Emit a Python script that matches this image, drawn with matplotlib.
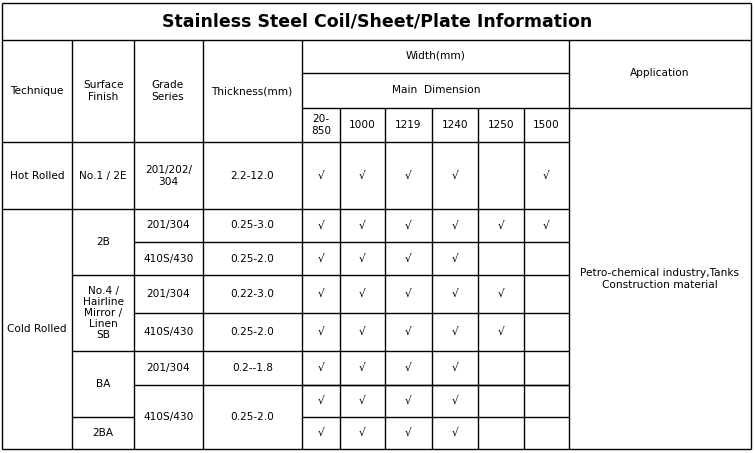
import matplotlib.pyplot as plt

# table data
title = "Stainless Steel Coil/Sheet/Plate Information"
widths = ["20-\n850", "1000", "1219", "1240", "1250", "1500"]
application = "Petro-chemical industry,Tanks\nConstruction material"
# check marks per data row (1 = available)
checks = [
    [1, 1, 1, 1, 0, 1],   # hot rolled
    [1, 1, 1, 1, 1, 1],   # 2B 201/304
    [1, 1, 1, 1, 0, 0],   # 2B 410S/430
    [1, 1, 1, 1, 1, 0],   # No.4 201/304
    [1, 1, 1, 1, 1, 0],   # No.4 410S/430
    [1, 1, 1, 1, 0, 0],   # BA 201/304
    [1, 1, 1, 1, 0, 0],   # BA 410S/430
    [1, 1, 1, 1, 0, 0],   # 2BA 410S/430
]

# grid in pixels
xs = [2, 72, 134, 203, 302, 340, 385, 432, 478, 524, 569, 751]
ys_body = [142, 209, 242, 275, 313, 351, 385, 417, 449]

fig = plt.figure(figsize=(7.55, 4.53), dpi=100)
ax = fig.add_axes([0, 0, 1, 1])
ax.set_xlim(0, 755)
ax.set_ylim(453, 0)
ax.axis("off")

lw = 1.0
def hline(y, x0, x1):
    ax.plot([x0, x1], [y, y], color="black", lw=lw, solid_capstyle="butt")
def vline(x, y0, y1):
    ax.plot([x, x], [y0, y1], color="black", lw=lw, solid_capstyle="butt")
def txt(x, y, s, size=7.6, **kw):
    ax.text(x, y, s, ha="center", va="center", fontsize=size,
            family="DejaVu Sans", linespacing=1.15, **kw)

# outer frame
hline(3, xs[0], xs[-1]); hline(449, xs[0], xs[-1])
vline(xs[0], 3, 449); vline(xs[-1], 3, 449)
hline(40, xs[0], xs[-1])
txt(377, 21, title, size=12.5, fontweight="bold")

# header
for x in xs[1:4]:
    vline(x, 40, 449)
vline(xs[4], 40, 449)
vline(xs[10], 40, 449)
hline(73, xs[4], xs[10])
hline(108, xs[4], xs[-1])
for x in xs[5:10]:
    vline(x, 108, 449)
txt(37, 91, "Technique")
txt(103, 91, "Surface\nFinish")
txt(168, 91, "Grade\nSeries")
txt(252, 91, "Thickness(mm)")
txt(436, 56, "Width(mm)")
txt(436, 90, "Main  Dimension")
txt(660, 73, "Application")
for i, w in enumerate(widths):
    txt((xs[4 + i] + xs[5 + i]) / 2, 125, w)
txt(660, 279, application)

# body horizontal lines
hline(142, xs[0], xs[10])
hline(209, xs[0], xs[10])
hline(242, xs[2], xs[10])
hline(275, xs[1], xs[10])
hline(313, xs[2], xs[10])
hline(351, xs[1], xs[10])
hline(385, xs[2], xs[10])
hline(385, xs[4], xs[10])
hline(417, xs[1], xs[2])
hline(417, xs[4], xs[10])

def cx(i):
    return (xs[i] + xs[i + 1]) / 2

# merged cells text
txt(cx(0), 176, "Hot Rolled")
txt(cx(1), 176, "No.1 / 2E")
txt(cx(2), 176, "201/202/\n304")
txt(cx(3), 176, "2.2-12.0")
txt(cx(0), 329, "Cold Rolled")
txt(cx(1), 242, "2B")
txt(cx(1), 313, "No.4 /\nHairline\nMirror /\nLinen\nSB")
txt(cx(1), 384, "BA")
txt(cx(1), 433, "2BA")
grades = [(225, "201/304", "0.25-3.0"), (259, "410S/430", "0.25-2.0"),
          (294, "201/304", "0.22-3.0"), (332, "410S/430", "0.25-2.0"),
          (368, "201/304", "0.2--1.8"), (417, "410S/430", "0.25-2.0")]
for y, g, t in grades:
    txt(cx(2), y, g)
    txt(cx(3), y, t)

row_mid = [(ys_body[i] + ys_body[i + 1]) / 2 for i in range(len(ys_body) - 1)]
for r, row in enumerate(checks):
    for c, v in enumerate(row):
        if v:
            txt(cx(4 + c), row_mid[r], "√")

fig.savefig("out.png", dpi=100, facecolor="white")
